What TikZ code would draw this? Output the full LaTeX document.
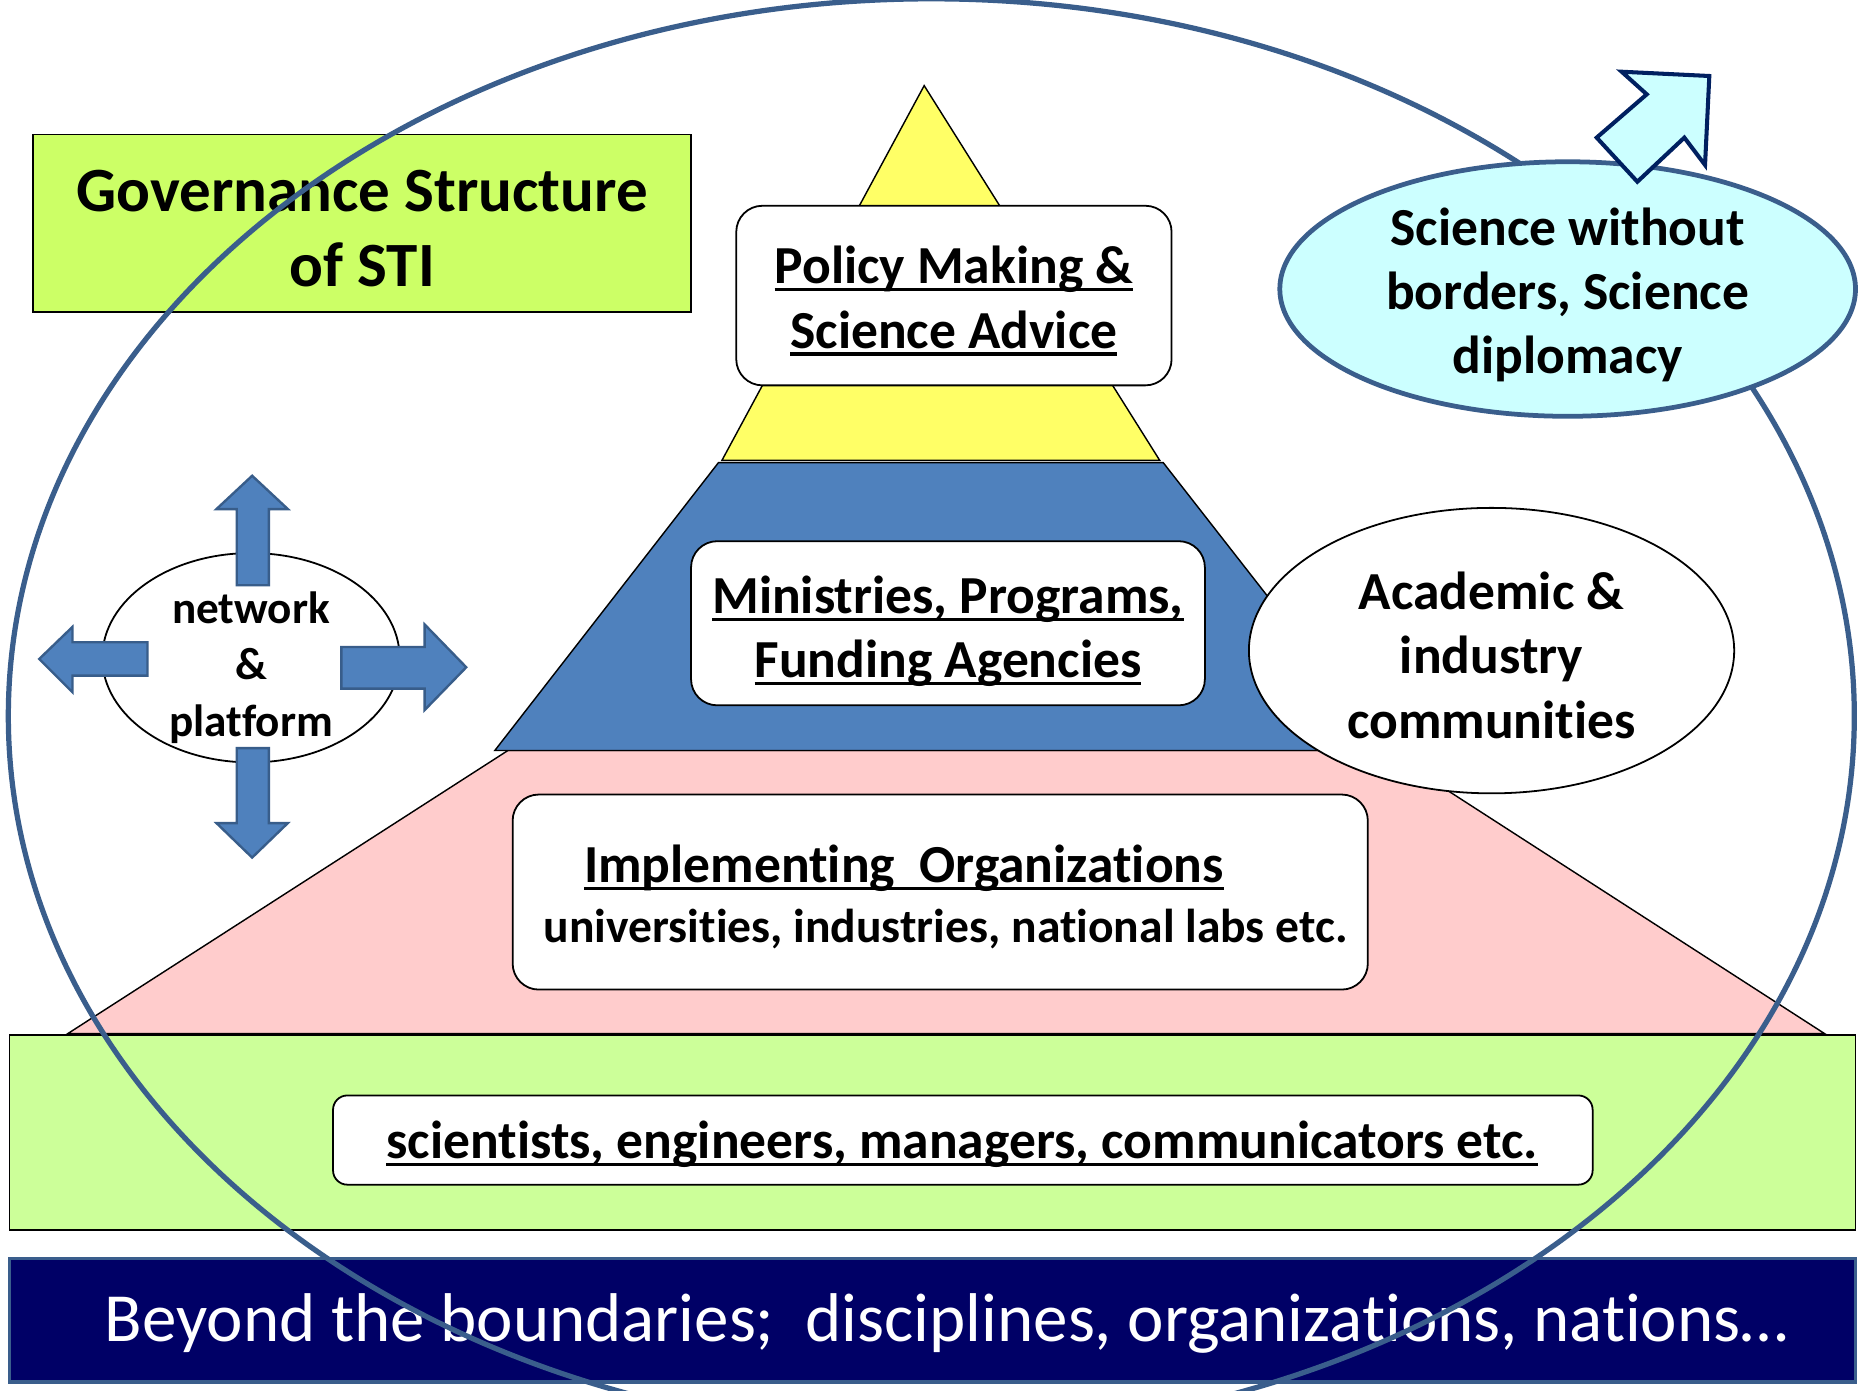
\documentclass[tikz,border=0pt]{standalone}
\usepackage{fontspec}
\setmainfont{Carlito}[Ligatures={TeX,NoCommon}]
\usetikzlibrary{shapes.geometric}
\definecolor{ring}{HTML}{3A5E8C}
\definecolor{govgreen}{HTML}{CCFF66}
\definecolor{basegreen}{HTML}{CCFF99}
\definecolor{pinkfill}{HTML}{FFCCCC}
\definecolor{bluefill}{HTML}{4F81BD}
\definecolor{yellowfill}{HTML}{FFFF66}
\definecolor{cyanfill}{HTML}{CCFFFF}
\definecolor{navyfill}{HTML}{000066}
\definecolor{arrowedge}{HTML}{002060}
\definecolor{netedge}{HTML}{385D8A}
\newcommand\ulx[1]{{\setbox0=\hbox{#1}\rlap{\rule[-0.14em]{\wd0}{0.06em}}\box0}}
\begin{document}
\begin{tikzpicture}[x=1pt,y=-1pt,
  tier/.style={draw=black, line width=1.2pt, line join=miter},
  whitebox/.style={draw=black, line width=1.5pt, fill=white, rounded corners=22pt, inner sep=0pt},
  lbl/.style={align=center, inner sep=0pt, font=\bfseries\fontsize{45}{54}\selectfont},
  netarrow/.style={fill=bluefill, draw=netedge, line width=2pt, line join=miter},
]
\useasboundingbox (0,0) rectangle (1568,1169);
\fill[white] (0,0) rectangle (1568,1169);

% pyramid tiers
\filldraw[tier, fill=pinkfill] (427,631) -- (1165,631) -- (1534,869) -- (57,869) -- cycle;
\filldraw[tier, fill=bluefill] (604,389) -- (978,389) -- (1167,631) -- (416,631) -- cycle;
\filldraw[tier, fill=yellowfill] (777,72) -- (975,387) -- (607,387) -- cycle;

% base layer
\node[draw=black, line width=1.5pt, fill=basegreen, minimum width=1552, minimum height=164, inner sep=0] (base) at (784,952) {};

% white boxes
\node[whitebox, minimum width=366, minimum height=151] (polbox) at (802,248.5) {};
\node[lbl] (poltxt) at (802,253) {\ulx{Policy Making \&}\\\ulx{Science Advice}};

\node[whitebox, minimum width=432, minimum height=138] (minbox) at (797,524) {};
\node[lbl] (mintxt) at (797,531) {\ulx{Ministries, Programs,}\\\ulx{Funding Agencies}};

\node[whitebox, minimum width=719, minimum height=164] (impbox) at (790.5,750) {};
\node[lbl, anchor=base] (imptitle) at (760,742) {\ulx{Implementing\ \ Organizations}};
\node[lbl, anchor=base, font=\bfseries\fontsize{40}{48}\selectfont] (impsub) at (795,792) {universities, industries, national labs etc.};

\node[whitebox, rounded corners=12pt, minimum width=1059, minimum height=75] (scibox) at (809.5,958.5) {};
\node[lbl, anchor=base] (scitxt) at (809,974) {\ulx{scientists, engineers, managers, communicators etc.}};

% academic ellipse
\node[ellipse, draw=black, line width=1.5pt, fill=white, minimum width=408, minimum height=240, inner sep=0] (acad) at (1254,547) {};
\node[lbl] (acadtxt) at (1254,551) {Academic \&\\industry\\communities};

% governance title box
\node[draw=black, line width=1.5pt, fill=govgreen, minimum width=553, minimum height=149, inner sep=0] (gov) at (304.5,187.5) {};
\node[lbl, font=\bfseries\fontsize{53}{63}\selectfont] (govtxt) at (304.5,192) {Governance Structure\\of STI};

% network & platform
\node[ellipse, draw=black, line width=1.5pt, fill=white, minimum width=250, minimum height=176, inner sep=0] (net) at (211,553) {};
\filldraw[netarrow] (212,400) -- (242,428) -- (226,428) -- (226,492) -- (199,492) -- (199,428) -- (182,428) -- cycle;
\filldraw[netarrow] (212,721) -- (242,692) -- (226,692) -- (226,629) -- (199,629) -- (199,692) -- (182,692) -- cycle;
\filldraw[netarrow] (33,554) -- (61,527) -- (61,540) -- (124,540) -- (124,568) -- (61,568) -- (61,582) -- cycle;
\filldraw[netarrow] (392,561) -- (357,525) -- (357,544) -- (287,544) -- (287,579) -- (357,579) -- (357,597) -- cycle;
\node[lbl, font=\bfseries\fontsize{38}{47.5}\selectfont] (nettxt) at (211,561) {network\\\&\\platform};

% bottom bar
\node[draw=ring, line width=3pt, fill=navyfill, minimum width=1552, minimum height=104, inner sep=0] (bar) at (784,1110) {};
\node[anchor=base, inner sep=0, text=white, font=\fontsize{58}{70}\selectfont] (bartxt) at (796,1128) {Beyond the boundaries;\ \ disciplines, organizations, nations…};

% big ring
\draw[ring, line width=4.4pt] (783,602) ellipse [x radius=776, y radius=603];

% science without borders
\node[ellipse, draw=ring, line width=4pt, fill=cyanfill, minimum width=484, minimum height=214, inner sep=0] (swb) at (1318,243) {};
\node[lbl] (swbtxt) at (1318,248) {Science without\\borders, Science\\diplomacy};
\filldraw[fill=cyanfill, draw=arrowedge, line width=3.4pt, line join=miter] (1363.4,60.3) -- (1437.1,63.9) -- (1433.5,138.7) -- (1416.1,115.7) -- (1376.6,152.8) -- (1342.4,115.7) -- (1384.5,79.3) -- cycle;
\end{tikzpicture}
\end{document}
